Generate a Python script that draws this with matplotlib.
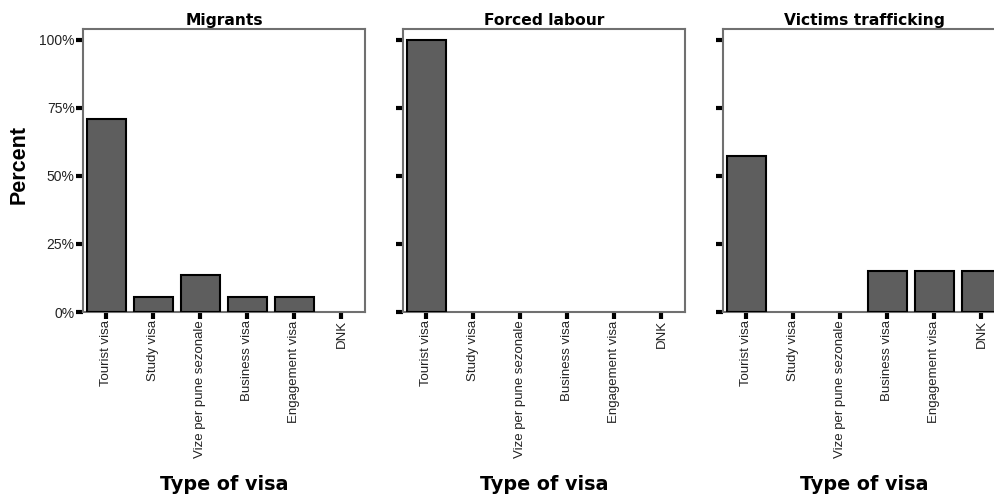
import numpy as np
import matplotlib.pyplot as plt

# visa categories, same for all three panels
visas = ["Tourist visa", "Study visa", "Vize per pune sezonale",
         "Business visa", "Engagement visa", "DNK"]
titles = ["Migrants", "Forced labour", "Victims trafficking"]

# percent per group
migrants = [70.8, 5.5, 13.5, 5.5, 5.5, 0]
forced = [100, 0, 0, 0, 0, 0]
victims = [57.5, 0, 0, 15.0, 15.0, 15.0]
groups = [migrants, forced, victims]

yticks = [0, 25, 50, 75, 100]
ytick_labels = ["0%", "25%", "50%", "75%", "100%"]

plt.rcParams['font.family'] = ['Liberation Sans', 'DejaVu Sans']

fig = plt.figure(figsize=(9.95, 4.99), dpi=100)
lefts = [83, 403, 723]  # pixels
x = np.arange(len(visas))

for i in range(3):
    ax = fig.add_axes([lefts[i] / 995, (499 - 312) / 499, 282 / 995, 283 / 499])
    vals = np.array(groups[i])
    keep = vals > 0  # empty categories get no bar outline
    ax.bar(x[keep], vals[keep], width=0.85, color="#5e5e5e", edgecolor="black", linewidth=1.5, zorder=3)
    ax.set_xlim(-0.5, 5.5)
    ax.set_ylim(0, 104)
    ax.set_xticks(x)
    ax.set_xticklabels(visas, rotation=90, fontsize=9.5, color="#222222")
    ax.set_yticks(yticks)
    if i == 0:
        ax.set_yticklabels(ytick_labels, fontsize=10, color="#222222")
        ax.set_ylabel("Percent", fontsize=15.5, fontweight="bold")
        ax.yaxis.set_label_coords(-0.19, 0.52)
    else:
        ax.set_yticklabels([])
    ax.tick_params(axis="both", length=5, width=3, color="black", pad=1)
    for s in ax.spines.values():
        s.set_color("#707070")
        s.set_linewidth(1.5)
    ax.set_title(titles[i], fontsize=11.2, fontweight="bold", pad=3, family="DejaVu Sans")
    ax.set_xlabel("Type of visa", fontsize=13.8, fontweight="bold", family="DejaVu Sans")
    ax.xaxis.set_label_coords(0.5, -0.575)
    ax.xaxis.label.set_va("top")

plt.savefig("out.png", dpi=100)
